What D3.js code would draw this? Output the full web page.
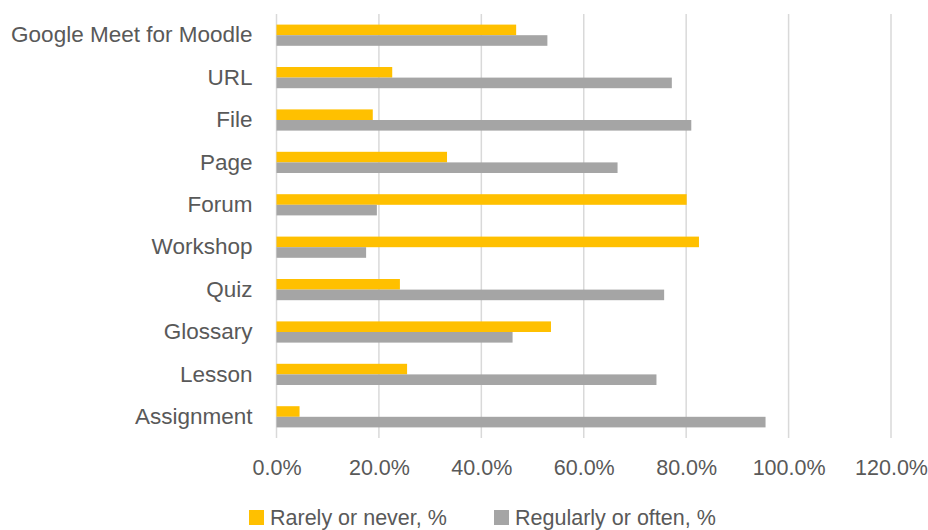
<!DOCTYPE html>
<html>
<head>
<meta charset="utf-8">
<script src="https://cdn.jsdelivr.net/npm/d3@7"></script>
<style>
  html, body { margin: 0; padding: 0; background: #fff; }
  svg { display: block; font-family: "Liberation Sans", Arial, sans-serif; }
</style>
</head>
<body>
<div id="chart"></div>
<script>
// categories top to bottom
const categories = ["Google Meet for Moodle", "URL", "File", "Page", "Forum",
  "Workshop", "Quiz", "Glossary", "Lesson", "Assignment"]
const seriesNames = ["Rarely or never, %", "Regularly or often, %"]
const rarely = [0.468, 0.226, 0.188, 0.333, 0.801, 0.825, 0.241, 0.536, 0.255, 0.045]
const regularly = [0.529, 0.772, 0.810, 0.666, 0.196, 0.175, 0.757, 0.461, 0.742, 0.955]
const xTicks = [0, 0.2, 0.4, 0.6, 0.8, 1.0, 1.2]
const colors = ["#FFC000", "#A5A5A5"]

const width = 928
const height = 530
const plot = { left: 276.5, right: 891, top: 14, bottom: 438 }

const data = categories.map((c, i) => ({ cat: c, values: [rarely[i], regularly[i]] }))

const svg = d3.select("#chart").append("svg")
  .attr("width", width)
  .attr("height", height)

const x = d3.scaleLinear().domain([0, 1.2]).range([plot.left, plot.right])

const y0 = d3.scaleBand()
  .domain(categories)
  .range([plot.top, plot.bottom])
  .paddingInner(0.5)
  .paddingOuter(0.25)

const y1 = d3.scaleBand()
  .domain([0, 1])
  .range([0, y0.bandwidth()])

// gridlines
svg.append("g")
  .selectAll("line")
  .data(xTicks).enter().append("line")
  .attr("x1", d => x(d)).attr("x2", d => x(d))
  .attr("y1", plot.top).attr("y2", plot.bottom)
  .attr("stroke", "#D9D9D9")
  .attr("stroke-width", 1.5)

// bars
const groups = svg.append("g")
  .selectAll("g")
  .data(data).enter().append("g")
  .attr("transform", d => `translate(0,${y0(d.cat)})`)

groups.selectAll("rect")
  .data(d => d.values).enter().append("rect")
  .attr("x", x(0))
  .attr("y", (d, i) => y1(i))
  .attr("width", d => x(d) - x(0))
  .attr("height", y1.bandwidth())
  .attr("fill", (d, i) => colors[i])

// x axis labels
const xAxis = svg.append("g")
  .attr("transform", `translate(0,${plot.bottom})`)
  .call(d3.axisBottom(x).tickValues(xTicks).tickFormat(d3.format(".1%")).tickSize(0).tickPadding(22))
xAxis.select(".domain").remove()
xAxis.selectAll("text")
  .attr("fill", "#595959")
  .style("font-size", "21.5px")
  .style("font-family", "'Liberation Sans', Arial, sans-serif")

// y axis labels
const yAxis = svg.append("g")
  .attr("transform", `translate(${plot.left},0)`)
  .call(d3.axisLeft(y0).tickSize(0).tickPadding(24))
yAxis.select(".domain").remove()
yAxis.selectAll("text")
  .attr("fill", "#595959")
  .style("font-size", "22.5px")
  .style("font-family", "'Liberation Sans', Arial, sans-serif")

// legend
const legend = svg.append("g")
  .attr("transform", "translate(249,510)")
const legendX = [0, 245]
const items = legend.selectAll("g")
  .data(seriesNames).enter().append("g")
  .attr("transform", (d, i) => `translate(${legendX[i]},0)`)
items.append("rect")
  .attr("width", 15).attr("height", 15)
  .attr("fill", (d, i) => colors[i])
items.append("text")
  .attr("x", 21)
  .attr("y", 14.5)
  .attr("fill", "#595959")
  .style("font-size", "21.5px")
  .text(d => d)
</script>
</body>
</html>
